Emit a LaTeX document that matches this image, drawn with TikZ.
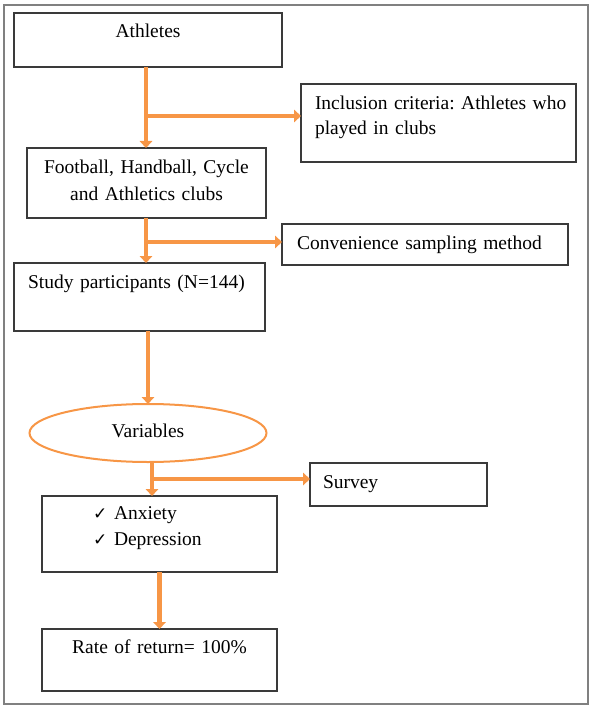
\documentclass[tikz,border=0pt]{standalone}
\usepackage{fontspec}
\setmainfont{Liberation Serif}
\newfontfamily\symfont{DejaVu Sans}
\usetikzlibrary{arrows.meta,shapes.geometric}
\definecolor{arrorange}{HTML}{F79646}
\definecolor{boxline}{HTML}{3A3A3A}
\definecolor{frameline}{HTML}{808080}
\newcommand{\chk}{\makebox[21pt][l]{\symfont\fontsize{17}{17}\selectfont ✓}}
\frenchspacing
\begin{document}
\begin{tikzpicture}[x=1pt,y=-1pt,
  every node/.style={font=\fontsize{19.5}{26}\selectfont},
  box/.style={draw=boxline, line width=1.1pt, rectangle, anchor=north west,
    inner ysep=0pt, outer sep=0pt},
  flow/.style={draw=arrorange, line width=4.5pt, -{Triangle[width=12.5pt,length=7pt]}},
  oval/.style={draw=arrorange, line width=2pt, ellipse, inner sep=0pt, outer sep=0pt}
]
\useasboundingbox (0,0) rectangle (595,711);
\draw[frameline, line width=1.3pt] (4,5) rectangle (588,704);

\node[box, inner xsep=0pt, text width=268pt, align=center, text height=25pt, text depth=29pt]
  (ath) at (14,13) {Athletes};
\node[box, inner xsep=14pt, text width=247pt, align=left, text height=25.5pt, text depth=52.5pt,
  font=\fontsize{19.5}{25}\selectfont]
  (incl) at (301,84) {\mbox{Inclusion criteria: Athletes who}\\\mbox{played in clubs}};
\node[box, inner xsep=0pt, text width=239pt, align=center, text height=26pt, text depth=44pt,
  font=\fontsize{19.5}{27}\selectfont]
  (fb) at (27,148) {\mbox{Football, Handball, Cycle}\\\mbox{and Athletics clubs}};
\node[box, inner xsep=15pt, text width=256pt, align=left, text height=25pt, text depth=16pt]
  (conv) at (282,224) {\mbox{Convenience sampling method}};
\node[box, inner xsep=14pt, text width=223pt, align=left, text height=25pt, text depth=43pt]
  (st) at (14,263) {\mbox{Study participants (N=144)}};
\node[oval, minimum width=237pt, minimum height=58pt, text height=10pt, text depth=2pt]
  (var) at (148,433) {Variables};
\node[box, inner xsep=13pt, text width=151pt, align=left, text height=25pt, text depth=18pt]
  (sv) at (310,463) {Survey};
\node[box, inner xsep=51pt, text width=133pt, align=left, text height=23pt, text depth=53pt]
  (anx) at (42,496) {\mbox{\chk Anxiety}\\\mbox{\chk Depression}};
\node[box, inner xsep=0pt, text width=235pt, align=center, text height=24pt, text depth=38pt]
  (rate) at (42,629) {\mbox{Rate of return= 100\%}};

\coordinate (j1) at (146,116);
\draw[flow] (ath.south -| j1) -- (j1 |- fb.north);
\draw[flow] (j1) -- (j1 -| incl.west);
\coordinate (j2) at (146,242);
\draw[flow] (fb.south -| j2) -- (j2 |- st.north);
\draw[flow] (j2) -- (j2 -| conv.west);
\draw[flow] (st.south -| var.north) -- (var.north);
\coordinate (j4) at (152,479);
\draw[flow] (var.south -| j4) -- (j4 |- anx.north);
\draw[flow] (j4) -- (j4 -| sv.west);
\draw[flow] (anx.south) -- (rate.north);
\end{tikzpicture}
\end{document}
